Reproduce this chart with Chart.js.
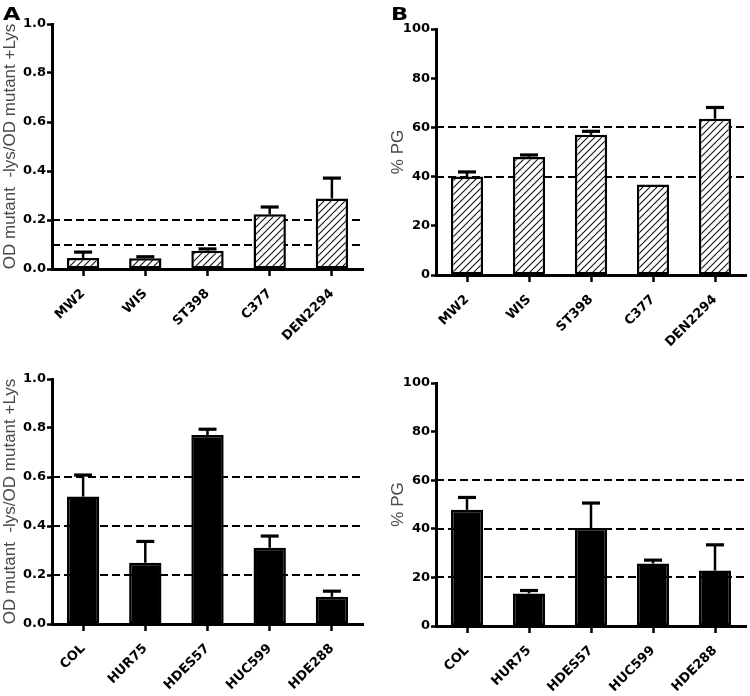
<!DOCTYPE html>
<html><head><meta charset="utf-8">
<script src="https://cdn.jsdelivr.net/npm/chart.js@4.4.1/dist/chart.umd.min.js"></script>
<style>
html,body{margin:0;padding:0;background:#fff;}
#wrap{position:relative;width:750px;height:696px;overflow:hidden;background:#fff;}
.panel{position:absolute;width:375px;height:348px;}
.panel canvas{display:block;}
.letter{position:absolute;font-family:'DejaVu Sans';font-weight:bold;font-size:18px;color:#000;line-height:1;transform:scaleX(1.25);transform-origin:left top;}
</style></head><body>
<div id="wrap">
 <div class="panel" style="left:0;top:0"><canvas id="c1" width="375" height="348"></canvas></div>
 <div class="panel" style="left:375px;top:0"><canvas id="c2" width="375" height="348"></canvas></div>
 <div class="panel" style="left:0;top:348px"><canvas id="c3" width="375" height="348"></canvas></div>
 <div class="panel" style="left:375px;top:348px"><canvas id="c4" width="375" height="348"></canvas></div>
 <div class="letter" style="left:3px;top:5px">A</div>
 <div class="letter" style="left:391px;top:5px">B</div>
</div>
<script>
// ---- data ----
const strainsTop = ['MW2', 'WIS', 'ST398', 'C377', 'DEN2294'];
const strainsBottom = ['COL', 'HUR75', 'HDES57', 'HUC599', 'HDE288'];

const odRatioTop = [0.045, 0.044, 0.075, 0.223, 0.288];
const odRatioTopErr = [0.024, 0.006, 0.007, 0.030, 0.083];
const pgTop = [40.0, 48.0, 57.0, 36.8, 63.5];
const pgTopErr = [1.9, 0.8, 1.4, 0, 4.6];

const odRatioBottom = [0.520, 0.250, 0.771, 0.311, 0.111];
const odRatioBottomErr = [0.088, 0.087, 0.024, 0.048, 0.023];
const pgBottom = [47.8, 13.4, 40.3, 25.7, 22.8];
const pgBottomErr = [5.1, 1.2, 10.3, 1.4, 10.6];

const odTicks = [0, 0.2, 0.4, 0.6, 0.8, 1.0];
const pgTicks = [0, 20, 40, 60, 80, 100];

const odRefTop = [0.1, 0.2];
const pgRefTop = [40, 60];
const odRefBottom = [0.2, 0.4, 0.6];
const pgRefBottom = [20, 40, 60];

const odTitle = 'OD mutant  -lys/OD mutant +Lys';
const pgTitle = '% PG';

// ---- drawing helpers ----
function hatchPattern() {
  const s = 7;
  const c = document.createElement('canvas');
  c.width = s; c.height = s;
  const g = c.getContext('2d');
  g.fillStyle = '#fff'; g.fillRect(0, 0, s, s);
  g.strokeStyle = '#111'; g.lineWidth = 1.1;
  g.beginPath();
  g.moveTo(0, s); g.lineTo(s, 0);
  g.moveTo(-1, 1); g.lineTo(1, -1);
  g.moveTo(s - 1, s + 1); g.lineTo(s + 1, s - 1);
  g.stroke();
  return g.createPattern(c, 'repeat');
}

const refErrPlugin = {
  id: 'refErr',
  beforeDatasetsDraw(chart, args, opts) {
    const { ctx, chartArea: a, scales: { y } } = chart;
    ctx.save();
    ctx.strokeStyle = '#000'; ctx.lineWidth = 2; ctx.setLineDash([8, 4]);
    opts.refs.forEach(v => {
      const py = Math.round(y.getPixelForValue(v));
      ctx.beginPath(); ctx.moveTo(a.left, py); ctx.lineTo(a.right, py); ctx.stroke();
    });
    ctx.restore();
  },
  afterDatasetsDraw(chart, args, opts) {
    const { ctx, scales: { y } } = chart;
    const meta = chart.getDatasetMeta(0);
    const vals = chart.data.datasets[0].data;
    ctx.save();
    ctx.strokeStyle = '#000'; ctx.lineCap = 'butt';
    meta.data.forEach((bar, i) => {
      const e = opts.errs[i];
      if (!e) return;
      const y0 = y.getPixelForValue(vals[i]);
      const y1 = y.getPixelForValue(vals[i] + e);
      ctx.lineWidth = opts.stem;
      ctx.beginPath(); ctx.moveTo(bar.x, y0); ctx.lineTo(bar.x, y1); ctx.stroke();
      ctx.lineWidth = opts.cap;
      ctx.beginPath(); ctx.moveTo(bar.x - opts.capW / 2, y1); ctx.lineTo(bar.x + opts.capW / 2, y1); ctx.stroke();
    });
    ctx.restore();
  }
};

function makeChart(id, cfg) {
  const W = 375, H = 348;
  const tickFont = { family: 'DejaVu Sans', weight: 'bold', size: 13 };
  return new Chart(document.getElementById(id), {
    type: 'bar',
    data: {
      labels: cfg.labels,
      datasets: [{
        data: cfg.values,
        backgroundColor: cfg.fill,
        borderColor: '#000',
        borderWidth: 2.5,
        borderSkipped: false,
        barPercentage: 0.52,
        categoryPercentage: 1.0
      }]
    },
    plugins: [refErrPlugin],
    options: {
      responsive: false,
      animation: false,
      layout: { padding: { left: 0, top: cfg.top, right: W - cfg.right, bottom: 0 } },
      plugins: {
        legend: { display: false },
        tooltip: { enabled: false },
        refErr: { refs: cfg.refs, errs: cfg.errs, stem: 2.5, cap: 3.2, capW: 18 }
      },
      scales: {
        x: {
          afterFit: s => { s.height = H - cfg.bottom; },
          grid: { display: true, drawOnChartArea: false, offset: false, tickLength: 7, tickWidth: 2.5, tickColor: '#000' },
          border: { display: true, color: '#000', width: 3 },
          ticks: { color: '#000', font: tickFont, maxRotation: 45, minRotation: 45, autoSkip: false, padding: 10 }
        },
        y: {
          min: cfg.ticks[0], max: cfg.ticks[cfg.ticks.length - 1],
          afterFit: s => { s.width = cfg.left; },
          afterBuildTicks: s => { s.ticks = cfg.ticks.map(v => ({ value: v })); },
          grid: { display: true, drawOnChartArea: false, tickLength: 5, tickWidth: 2.5, tickColor: '#000' },
          border: { display: true, color: '#000', width: 3 },
          ticks: { color: '#000', font: tickFont, padding: 1, callback: cfg.fmt },
          title: { display: true, text: cfg.title, color: '#4a4a4a', font: { family: 'Liberation Sans', size: 17 }, padding: { top: cfg.titlePad, bottom: 0 } }
        }
      }
    }
  });
}

const hatch = hatchPattern();
const fmtOD = v => Number(v).toFixed(1);
const fmtPG = v => String(v);

makeChart('c1', { labels: strainsTop, values: odRatioTop, errs: odRatioTopErr, refs: odRefTop, ticks: odTicks, fmt: fmtOD,
  fill: hatch, title: odTitle, titlePad: 0, left: 52, right: 363, top: 24, bottom: 269 });
makeChart('c2', { labels: strainsTop, values: pgTop, errs: pgTopErr, refs: pgRefTop, ticks: pgTicks, fmt: fmtPG,
  fill: hatch, title: pgTitle, titlePad: 13, left: 61, right: 371, top: 29, bottom: 275 });
makeChart('c3', { labels: strainsBottom, values: odRatioBottom, errs: odRatioBottomErr, refs: odRefBottom, ticks: odTicks, fmt: fmtOD,
  fill: '#000', title: odTitle, titlePad: 0, left: 52, right: 363, top: 31, bottom: 276 });
makeChart('c4', { labels: strainsBottom, values: pgBottom, errs: pgBottomErr, refs: pgRefBottom, ticks: pgTicks, fmt: fmtPG,
  fill: '#000', title: pgTitle, titlePad: 13, left: 61, right: 371, top: 35, bottom: 278 });
</script>
</body></html>
